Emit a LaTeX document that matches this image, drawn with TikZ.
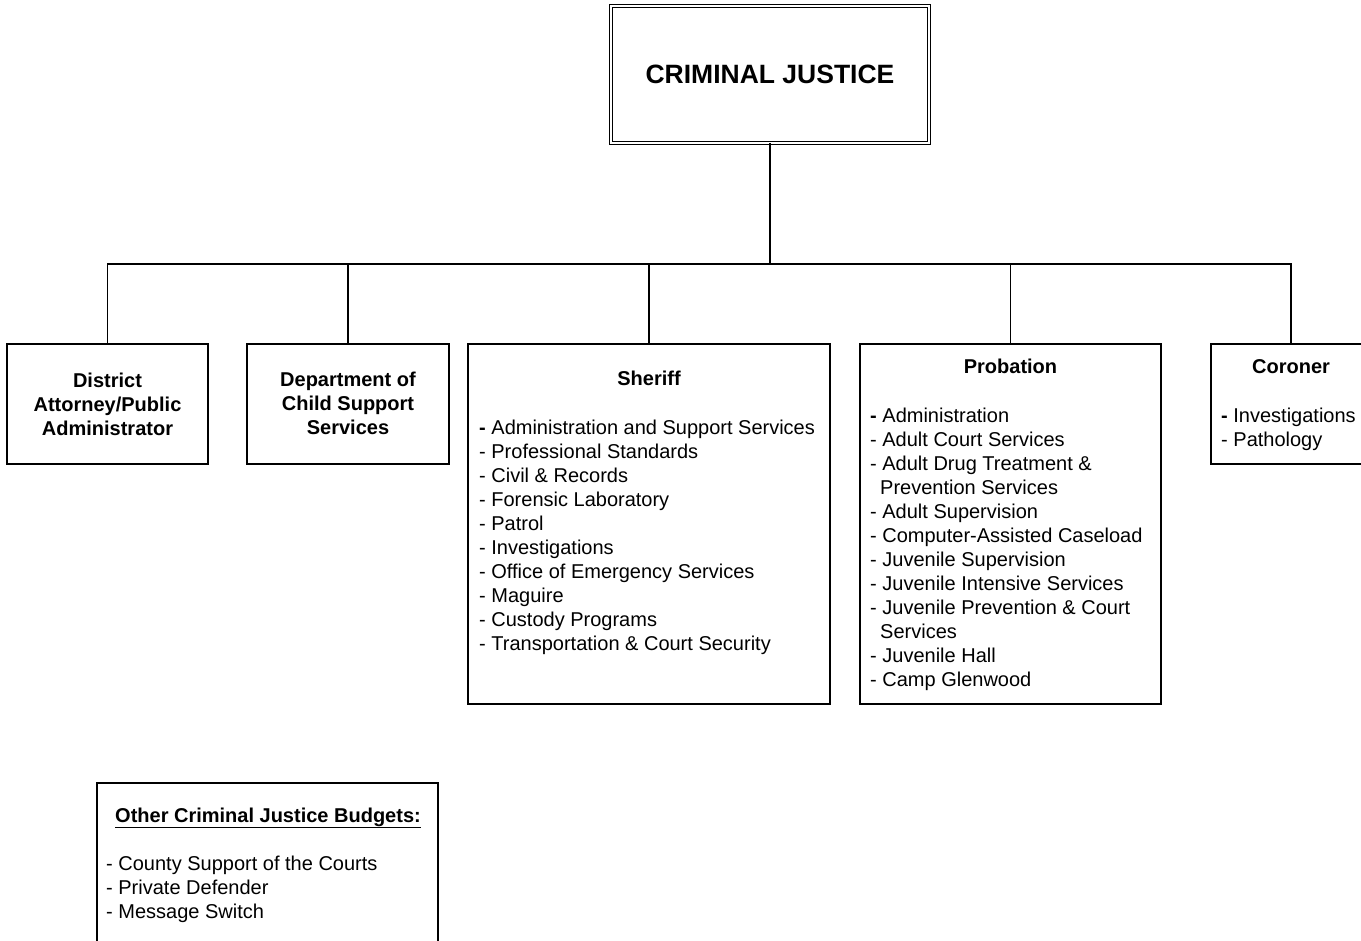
\documentclass[tikz,border=0pt]{standalone}
\usepackage{fontspec}
\setmainfont{Liberation Sans}
\begin{document}
\begin{tikzpicture}[x=1pt,y=-1pt,
  box/.style={draw, line width=1.2pt, rectangle, inner sep=0pt, outer sep=0pt},
  head/.style={font=\fontsize{20}{24}\selectfont\bfseries, inner sep=0pt, align=center},
  list/.style={font=\fontsize{20}{24}\selectfont, inner sep=0pt, align=left, anchor=north west},
  conn/.style={line width=1.2pt}]
\clip (0,0) rectangle (1361,941);
\fill[white] (0,0) rectangle (1361,941);
% top box
\node[box, double, double distance=2.5pt, minimum width=318pt, minimum height=137pt,
      font=\fontsize{26.5}{32}\selectfont\bfseries] (cj) at (770,74.5) {CRIMINAL JUSTICE};
% second level boxes
\node[box, minimum width=201pt, minimum height=120pt] (da) at (107.5,404) {};
\node[box, minimum width=202pt, minimum height=120pt] (dcs) at (348,404) {};
\node[box, minimum width=362pt, minimum height=360pt] (sh) at (649,524) {};
\node[box, minimum width=301pt, minimum height=360pt] (pr) at (1010.5,524) {};
\node[box, minimum width=160pt, minimum height=120pt] (cor) at (1291,404) {};
\node[box, minimum width=341pt, minimum height=200pt] (ob) at (267.5,883) {};
% connectors
\coordinate (bus) at (770,264);
\draw[conn] (cj.south) -- (bus);
\draw[conn] (da.north) -- (da.north |- bus) -- (cor.north |- bus) -- (cor.north);
\draw[conn] (dcs.north |- bus) -- (dcs.north);
\draw[conn] (sh.north |- bus) -- (sh.north);
\draw[conn] (pr.north |- bus) -- (pr.north);
% texts
\node[head] (dat) at (107.5,404) {District\\Attorney/Public\\Administrator};
\node[head] (dcst) at (348,403) {Department of\\Child Support\\Services};
\node[head, anchor=base] (sht) at (649,386) {Sheriff};
\node[list] (shl) at (479,417.2) {\strut{\bfseries -} Administration and Support Services\\
- Professional Standards\\
- Civil \& Records\\
- Forensic Laboratory\\
- Patrol\\
- Investigations\\
- Office of Emergency Services\\
- Maguire\\
- Custody Programs\\
- Transportation \& Court Security};
\node[head, anchor=base] (prt) at (1010.5,374) {Probation};
\node[list] (prl) at (870,405.2) {\strut{\bfseries -} Administration\\
- Adult Court Services\\
- Adult Drug Treatment \&\\
\hspace*{10pt}Prevention Services\\
- Adult Supervision\\
- Computer-Assisted Caseload\\
- Juvenile Supervision\\
- Juvenile Intensive Services\\
- Juvenile Prevention \& Court\\
\hspace*{10pt}Services\\
- Juvenile Hall\\
- Camp Glenwood};
\node[head, anchor=base] (cort) at (1291,374) {Coroner};
\node[list] (corl) at (1221,405.2) {\strut{\bfseries -} Investigations\\
- Pathology};
\node[head, anchor=base] (obt) at (268,822) {\underline{Other Criminal Justice Budgets:}};
\node[list] (obl) at (106,853.2) {\strut - County Support of the Courts\\
- Private Defender\\
- Message Switch};
\end{tikzpicture}
\end{document}
